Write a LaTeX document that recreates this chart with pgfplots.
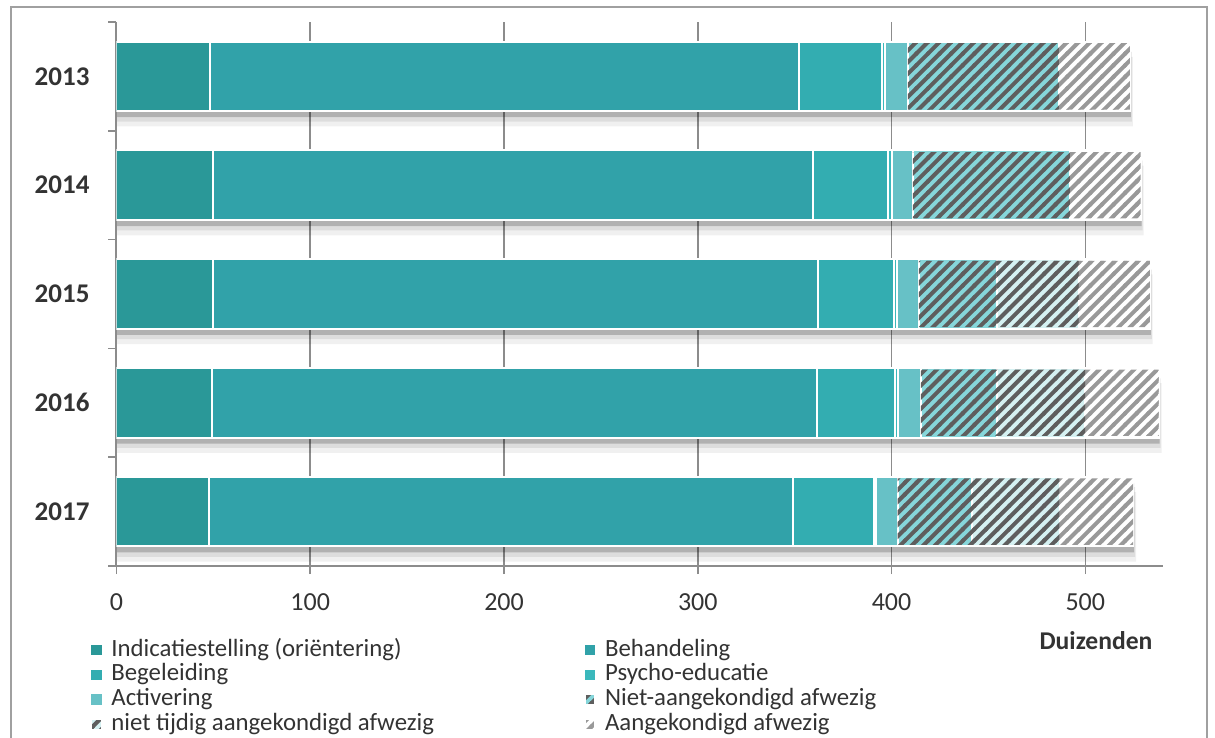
\documentclass[border=0pt]{standalone}
\usepackage{pgfplots}
\pgfplotsset{compat=1.18}
\usepackage{pgfplotstable}
\usepackage{fontspec}
\setmainfont{Carlito}
\usetikzlibrary{patterns}
\definecolor{cInd}{HTML}{2A9898}
\definecolor{cBeh}{HTML}{31A2A9}
\definecolor{cBeg}{HTML}{33ADB1}
\definecolor{cPsy}{HTML}{3BB8BC}
\definecolor{cAct}{HTML}{67C1C6}
\definecolor{cNiet}{HTML}{86D6DA}
\definecolor{cTijd}{HTML}{D5F1F2}
\definecolor{hatchDark}{HTML}{5E5E5E}
\definecolor{hatchLight}{HTML}{999999}
\definecolor{axisgray}{HTML}{8C8C8C}
\definecolor{framegray}{HTML}{A0A0A0}
\definecolor{txt}{HTML}{333333}

\pgfdeclarepatternformonly{hatch}{\pgfqpoint{-1pt}{-1pt}}{\pgfqpoint{6.8pt}{6.8pt}}{\pgfqpoint{5.8pt}{5.8pt}}{%
  \pgfsetlinewidth{2pt}%
  \pgfpathmoveto{\pgfqpoint{-1pt}{-1pt}}%
  \pgfpathlineto{\pgfqpoint{6.8pt}{6.8pt}}%
  \pgfusepath{stroke}}

\pgfplotstableread{
y ind beh beg psy act niet tijd aang tot
0 48.2 304.0 42.8 1.6 11.8 77.9 0.0 36.7 523.0
1 49.6 309.8 38.7 2.1 10.8 81.0 0.0 36.6 528.6
2 49.6 312.3 39.3 1.7 11.2 40.1 42.4 36.7 533.3
3 49.1 312.3 40.3 1.7 11.7 39.4 45.4 38.0 537.9
4 47.9 301.3 41.8 1.1 11.0 38.5 45.2 37.9 524.7
}\data

\pgfplotsset{
  base/.style={
    width=523.15pt, height=272pt, scale only axis,
    xmin=0, xmax=540, ymin=-0.5, ymax=4.5, y dir=reverse,
    at={(0,0)}, anchor=south west,
  },
  seg/.style={draw=white, line width=1pt, fill=#1},
  hleg/.style 2 args={legend image code/.code={%
      \fill[#1] (0pt,-2.6pt) rectangle (5.2pt,2.6pt);
      \fill[pattern=hatch, pattern color=#2] (0pt,-2.6pt) rectangle (5.2pt,2.6pt);
      \path (9.5pt,0pt);}},
}

\begin{document}
\begin{tikzpicture}
\path[use as bounding box] (-58.25pt,-86pt) rectangle (549.25pt,283pt);
% frame
\draw[framegray, line width=1pt] (-52.5pt,-120pt) -- (-52.5pt,279.5pt) -- (545.25pt,279.5pt) -- (545.25pt,-120pt);

% back axis: grid and shadows
\begin{axis}[base,
  axis line style={draw=none},
  xtick={100,200,...,500}, xticklabels={}, ytick=\empty,
  major tick length=0pt,
  xmajorgrids, grid style={axisgray, line width=0.8pt},
  xbar, bar width=0.64,
]
\addplot[draw=none, fill=black, fill opacity=0.06, bar shift=0.14] table[x expr=\thisrow{tot}+1.5, y=y] {\data};
\addplot[draw=none, fill=black, fill opacity=0.08, bar shift=0.095] table[x expr=\thisrow{tot}+1, y=y] {\data};
\addplot[draw=none, fill=black, fill opacity=0.2, bar shift=0.055] table[x expr=\thisrow{tot}+0.5, y=y] {\data};
\end{axis}

% front axis: bars
\begin{axis}[base,
  xbar stacked, bar width=0.64,
  axis line style={axisgray, line width=1pt},
  axis x line*=bottom, axis y line*=left,
  xtick={0,100,...,500},
  ytick={-0.5,0.5,...,4.5}, yticklabels={},
  extra y ticks={0,1,2,3,4},
  extra y tick labels={2013,2014,2015,2016,2017},
  extra y tick style={tick style={draw=none},
    yticklabel style={font=\bfseries\fontsize{13.5}{15}\selectfont, text=txt, xshift=-6pt}},
  tick align=outside,
  major tick length=4pt,
  tick style={axisgray, line width=0.8pt},
  xticklabel style={font=\fontsize{13}{15}\selectfont, text=txt, yshift=-6.5pt},
  /pgf/number format/assume math mode=true,
  legend columns=2,
  legend style={at={(0,0)}, anchor=north west, xshift=-13.25pt, yshift=-36pt,
    draw=none, fill=none, font=\fontsize{12.4}{13}\selectfont, text=txt,
    row sep=0.55pt, inner sep=0pt,
    nodes={inner sep=0pt, text height=8.8pt, text depth=3pt},
    /tikz/every even column/.append style={column sep=75pt}},
  legend cell align=left,
  legend image code/.code={\path[#1, draw=none] (0pt,-2.6pt) rectangle (5.2pt,2.6pt); \path (9.5pt,0pt);},
]
\addplot[seg=cInd] table[x=ind, y=y] {\data};
\addplot[seg=cBeh] table[x=beh, y=y] {\data};
\addplot[seg=cBeg] table[x=beg, y=y] {\data};
\addplot[seg=cPsy] table[x=psy, y=y] {\data};
\addplot[seg=cAct] table[x=act, y=y] {\data};
\addplot[seg=cNiet, hleg={cNiet}{hatchDark}] table[x=niet, y=y] {\data};
\addplot[seg=cTijd, hleg={cTijd}{hatchDark}] table[x=tijd, y=y] {\data};
\addplot[seg=white, hleg={white}{hatchLight}] table[x=aang, y=y] {\data};
\legend{Indicatiestelling (oriëntering), Behandeling, Begeleiding, Psycho-educatie, Activering, Niet-aangekondigd afwezig, niet tijdig aangekondigd afwezig, Aangekondigd afwezig}
\end{axis}

% overlay axis: hatching
\begin{axis}[base, hide axis, xbar stacked, bar width=0.61]
\addplot[draw=none, fill=none] table[x=ind, y=y] {\data};
\addplot[draw=none, fill=none] table[x=beh, y=y] {\data};
\addplot[draw=none, fill=none] table[x=beg, y=y] {\data};
\addplot[draw=none, fill=none] table[x=psy, y=y] {\data};
\addplot[draw=none, fill=none] table[x=act, y=y] {\data};
\addplot[draw=none, pattern=hatch, pattern color=hatchDark] table[x=niet, y=y] {\data};
\addplot[draw=none, pattern=hatch, pattern color=hatchDark] table[x=tijd, y=y] {\data};
\addplot[draw=none, pattern=hatch, pattern color=hatchLight] table[x=aang, y=y] {\data};
\end{axis}
\node[font=\bfseries\fontsize{12.8}{14}\selectfont, text=txt] at (489.75pt,-37.5pt) {Duizenden};
\end{tikzpicture}
\end{document}
